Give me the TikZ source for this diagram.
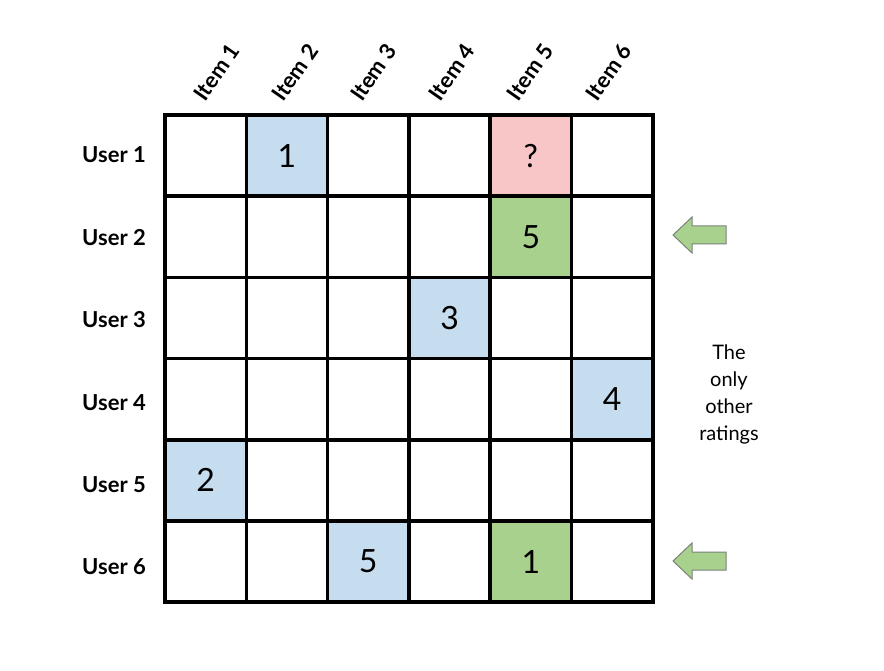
\documentclass[tikz,border=0pt]{standalone}
\usepackage{fontspec}
\setmainfont{Lato}
\definecolor{cblue}{RGB}{198,221,240}
\definecolor{cpink}{RGB}{248,198,198}
\definecolor{cgreen}{RGB}{169,209,142}
\definecolor{cedge}{RGB}{170,170,170}
\definecolor{aedge}{RGB}{120,130,120}
\begin{document}
\begin{tikzpicture}[x=1pt,y=-1pt,
  cellfill/.style={draw=cedge,line width=0.8pt,minimum width=81.3pt,minimum height=81.2pt,inner sep=0pt,font=\fontsize{32}{36}\selectfont},
  rowlab/.style={font=\bfseries\fontsize{22}{26}\selectfont},
  collab/.style={font=\bfseries\fontsize{22}{26}\selectfont,rotate=55,anchor=west,inner sep=0pt},
  gridline/.style={line width=3.6pt,black},
  arrowshape/.style={fill=cgreen,draw=aedge,line width=1pt,line join=miter}]
\useasboundingbox (0,0) rectangle (884,671);
\def\X#1{165+81.3*(#1)}
\def\Y#1{115+81.2*(#1)}
% filled cells
\node[cellfill,fill=cblue] (c12) at ({\X{1.5}},{\Y{0.5}}) {1};
\node[cellfill,fill=cpink] (c15) at ({\X{4.5}},{\Y{0.5}}) {?};
\node[cellfill,fill=cgreen] (c25) at ({\X{4.5}},{\Y{1.5}}) {5};
\node[cellfill,fill=cblue] (c34) at ({\X{3.5}},{\Y{2.5}}) {3};
\node[cellfill,fill=cblue] (c46) at ({\X{5.5}},{\Y{3.5}}) {4};
\node[cellfill,fill=cblue] (c51) at ({\X{0.5}},{\Y{4.5}}) {2};
\node[cellfill,fill=cblue] (c63) at ({\X{2.5}},{\Y{5.5}}) {5};
\node[cellfill,fill=cgreen] (c65) at ({\X{4.5}},{\Y{5.5}}) {1};
% grid
\foreach \i in {0,...,6} {
  \draw[gridline] ({\X{\i}},{\Y{0}-1.8}) -- ({\X{\i}},{\Y{6}+1.8});
  \draw[gridline] ({\X{0}-1.8},{\Y{\i}}) -- ({\X{6}+1.8},{\Y{\i}});
}
% row labels
\foreach \r in {1,...,6} {
  \node[rowlab] (u\r) at (114,{155+82.4*(\r-1)}) {User \r};
}
% column labels
\foreach \c in {1,...,6} {
  \node[collab] (i\c) at ({198.6+78.4*(\c-1)},{98}) {Item \c};
}
% arrows
\draw[arrowshape] (673,235) -- (692,217) -- (692,226) -- (726,226) -- (726,244) -- (692,244) -- (692,253) -- cycle;
\draw[arrowshape] (673,561) -- (692,543) -- (692,552) -- (726,552) -- (726,570) -- (692,570) -- (692,579) -- cycle;
% note
\node[font=\fontsize{20}{27}\selectfont,align=center] (note) at (729,394) {The\\only\\other\\ratings};
\end{tikzpicture}
\end{document}
